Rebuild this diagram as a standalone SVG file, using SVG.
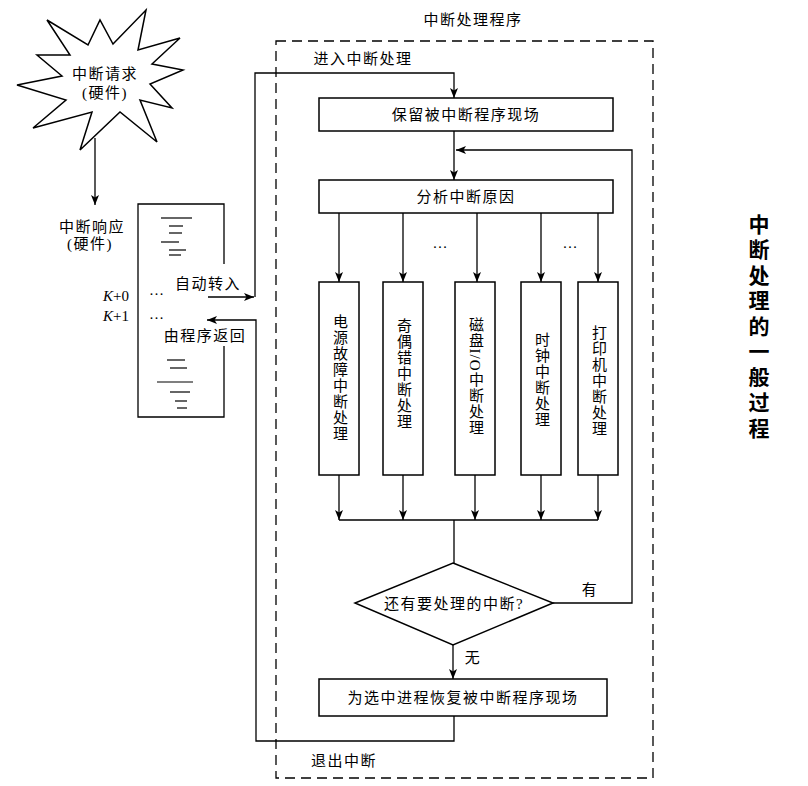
<svg xmlns="http://www.w3.org/2000/svg" width="808" height="786" viewBox="0 0 808 786">
<defs>
<marker id="ah" viewBox="0 0 10 8" refX="10" refY="4" markerWidth="10" markerHeight="8" markerUnits="userSpaceOnUse" orient="auto">
<path d="M0,0 L10,4 L0,8 L2.5,4 z" fill="#000"/>
</marker>
<style>
.ln{fill:none;stroke:#000;stroke-width:1.3}
.ar{fill:none;stroke:#000;stroke-width:1.3;marker-end:url(#ah)}
.bx{fill:#fff;stroke:#000;stroke-width:1.5}
.t{font-family:"Liberation Serif","Noto Sans CJK SC",serif;font-size:15px;fill:#000;letter-spacing:1.5px}
.c{text-anchor:middle;dominant-baseline:central}
.v{writing-mode:vertical-rl;text-anchor:middle;letter-spacing:1px}
.thin{stroke:#000;stroke-width:1.2}
</style>
</defs>
<rect width="808" height="786" fill="#fff"/>

<g id="frame">
<rect x="276" y="41" width="377" height="737" fill="none" stroke="#000" stroke-width="1.3" stroke-dasharray="10,6"/>
<text class="t c" x="473" y="20">中断处理程序</text>
</g>

<g id="request">
<polygon class="bx" stroke-width="1.2" points="47,20 88,45 100,20 113,44 146,10 138,50 180,38 152,64 183,70 150,84 172,108 140,100 157,142 120,112 80,150 92,112 33,128 66,100 17,85 62,76 37,55 70,55"/>
<text class="t c" x="105" y="74">中断请求</text>
<text class="t c" x="105" y="93">(硬件)</text>
</g>

<g id="response">
<text class="t c" x="92" y="227">中断响应</text>
<text class="t c" x="90" y="244">(硬件)</text>
</g>

<g id="memory">
<path class="ln" stroke-width="1.5" d="M224,264 V204 H138 V417 H224 V346"/>
<g class="thin">
<line x1="161" y1="218" x2="192" y2="218"/>
<line x1="169" y1="226" x2="183" y2="226"/>
<line x1="169" y1="233" x2="182" y2="233"/>
<line x1="161" y1="242" x2="179" y2="242"/>
<line x1="169" y1="250" x2="186" y2="250"/>
<line x1="169" y1="255" x2="181" y2="255"/>
<line x1="167" y1="360" x2="185" y2="360"/>
<line x1="170" y1="368" x2="187" y2="368"/>
<line x1="157" y1="382" x2="193" y2="382"/>
<line x1="170" y1="392" x2="190" y2="392"/>
<line x1="175" y1="401" x2="187" y2="401"/>
<line x1="177" y1="408" x2="187" y2="408"/>
</g>
<text class="t" x="103" y="301" style="letter-spacing:0"><tspan font-style="italic">K</tspan>+0</text>
<text class="t" x="103" y="321" style="letter-spacing:0"><tspan font-style="italic">K</tspan>+1</text>
<text class="t" x="149" y="295" style="letter-spacing:0">…</text>
<text class="t" x="149" y="319" style="letter-spacing:0">…</text>
<text class="t c" x="208" y="284">自动转入</text>
<text class="t c" x="205" y="336">由程序返回</text>
</g>

<g id="save">
<rect class="bx" x="319" y="98" width="294" height="33"/>
<text class="t c" x="466" y="115">保留被中断程序现场</text>
</g>

<g id="analyze">
<rect class="bx" x="319" y="180" width="294" height="33"/>
<text class="t c" x="466" y="197">分析中断原因</text>
</g>

<g id="h1">
<rect class="bx" x="319" y="282" width="40" height="193"/>
<text class="t v" x="339" y="378">电源故障中断处理</text>
</g>
<g id="h2">
<rect class="bx" x="383" y="282" width="40" height="193"/>
<text class="t v" x="403" y="374">奇偶错中断处理</text>
</g>
<g id="h3">
<rect class="bx" x="455" y="282" width="40" height="193"/>
<text class="t v" x="475" y="376">磁盘I/O中断处理</text>
</g>
<g id="h4">
<rect class="bx" x="521" y="282" width="40" height="193"/>
<text class="t v" x="541" y="380">时钟中断处理</text>
</g>
<g id="h5">
<rect class="bx" x="578" y="282" width="40" height="193"/>
<text class="t v" x="598" y="381">打印机中断处理</text>
</g>

<g id="dots">
<text class="t c" x="440" y="243" style="letter-spacing:0">…</text>
<text class="t c" x="570" y="243" style="letter-spacing:0">…</text>
</g>

<g id="decision">
<polygon class="bx" points="453,563 553,603 453,645 355,603"/>
<text class="t c" x="454" y="604">还有要处理的中断?</text>
</g>

<g id="restore">
<rect class="bx" x="319" y="679" width="288" height="37"/>
<text class="t c" x="463" y="698">为选中进程恢复被中断程序现场</text>
</g>

<g id="connectors">
<path class="ar" d="M95,138 V205"/>
<path class="ar" d="M208,297 H254"/>
<path class="ar" d="M255,297 V73 H454 V98"/>
<path class="ar" d="M454,716 V741 H256 V320 H207"/>
<path class="ar" d="M454,131 V180"/>
<path class="ar" d="M553,603 H632 V150 H456"/>
<path class="ar" d="M339,213 V282"/>
<path class="ar" d="M403,213 V282"/>
<path class="ar" d="M477,213 V282"/>
<path class="ar" d="M541,213 V282"/>
<path class="ar" d="M598,213 V282"/>
<path class="ar" d="M339,475 V520"/>
<path class="ar" d="M403,475 V520"/>
<path class="ar" d="M475,475 V520"/>
<path class="ar" d="M541,475 V520"/>
<path class="ar" d="M598,475 V520"/>
<path class="ln" d="M339,520 H598 M454,520 V563"/>
<path class="ar" d="M453,645 V679"/>
</g>

<g id="labels">
<text class="t c" x="363" y="59">进入中断处理</text>
<text class="t c" x="590" y="590">有</text>
<text class="t c" x="473" y="658">无</text>
<text class="t c" x="344" y="761">退出中断</text>
</g>

<g id="title">
<text x="757" y="328" style="font-family:'Liberation Serif','Noto Sans CJK SC',serif;font-size:21px;font-weight:bold;writing-mode:vertical-rl;text-anchor:middle;letter-spacing:4.5px">中断处理的一般过程</text>
</g>
</svg>
